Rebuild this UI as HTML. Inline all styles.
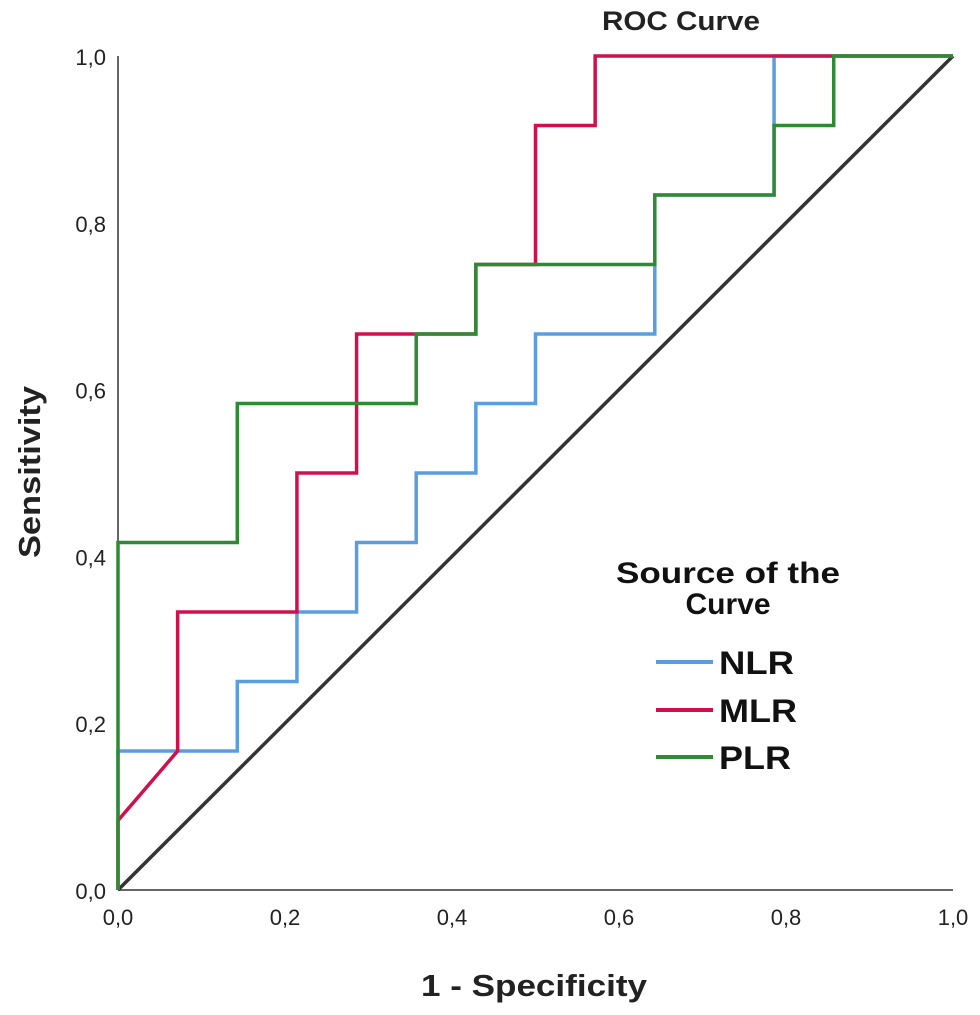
<!DOCTYPE html>
<html><head><meta charset="utf-8"><style>
body{margin:0;background:#fff;}
svg text{font-family:"Liberation Sans",Arial,sans-serif;}
</style></head><body>
<svg id="chart" width="980" height="1010" xmlns="http://www.w3.org/2000/svg">
<text x="681" y="30" font-size="27" font-weight="bold" text-anchor="middle" textLength="158" lengthAdjust="spacingAndGlyphs" fill="#222">ROC Curve</text>
<text transform="translate(40,472) rotate(-90)" font-size="31" font-weight="bold" text-anchor="middle" textLength="172" lengthAdjust="spacingAndGlyphs" fill="#222">Sensitivity</text>
<text x="534" y="996" font-size="31" font-weight="bold" text-anchor="middle" textLength="226" lengthAdjust="spacingAndGlyphs" fill="#222">1 - Specificity</text>
<g id="ticks"></g>
<line x1="118" y1="56" x2="118" y2="890" stroke="#666" stroke-width="2"/>
<line x1="118" y1="890" x2="953" y2="890" stroke="#666" stroke-width="2"/>
<g id="series"></g>
<g>
<text x="728" y="583" font-size="30" font-weight="bold" text-anchor="middle" textLength="224" lengthAdjust="spacingAndGlyphs" fill="#111">Source of the</text>
<text x="728" y="614" font-size="30" font-weight="bold" text-anchor="middle" fill="#111">Curve</text>
<line x1="656" y1="662" x2="713" y2="662" stroke="#5a9ee0" stroke-width="4"/>
<text x="719" y="674" font-size="32" font-weight="bold" textLength="75" lengthAdjust="spacingAndGlyphs" fill="#111">NLR</text>
<line x1="656" y1="710" x2="713" y2="710" stroke="#d0104c" stroke-width="4"/>
<text x="719" y="722" font-size="32" font-weight="bold" textLength="78" lengthAdjust="spacingAndGlyphs" fill="#111">MLR</text>
<line x1="656" y1="757" x2="713" y2="757" stroke="#2e8b34" stroke-width="4"/>
<text x="719" y="769" font-size="32" font-weight="bold" textLength="72" lengthAdjust="spacingAndGlyphs" fill="#111">PLR</text>
</g>
</svg>
<script>
const tickValues=[0,0.2,0.4,0.6,0.8,1.0];
const tickLabels=["0,0","0,2","0,4","0,6","0,8","1,0"];
const nlrX=[0,0,2/14,2/14,3/14,3/14,4/14,4/14,5/14,5/14,6/14,6/14,7/14,7/14,9/14,9/14,11/14,11/14,1];
const nlrY=[0,1/6,1/6,3/12,3/12,4/12,4/12,5/12,5/12,6/12,6/12,7/12,7/12,8/12,8/12,10/12,10/12,1,1];
const mlrX=[0,0,1/14,1/14,3/14,3/14,4/14,4/14,6/14,6/14,7/14,7/14,8/14,8/14,1];
const mlrY=[0,1/12,2/12,4/12,4/12,6/12,6/12,8/12,8/12,9/12,9/12,11/12,11/12,1,1];
const plrX=[0,0,2/14,2/14,5/14,5/14,6/14,6/14,9/14,9/14,11/14,11/14,12/14,12/14,1];
const plrY=[0,5/12,5/12,7/12,7/12,8/12,8/12,9/12,9/12,10/12,10/12,11/12,11/12,1,1];
const refX=[0,1], refY=[0,1];
const xs=v=>118+v*835, ys=v=>890-v*834;
const NS="http://www.w3.org/2000/svg";
const tg=document.getElementById('ticks');
tickValues.forEach((v,i)=>{
 let t=document.createElementNS(NS,'text');
 t.setAttribute('x',106);t.setAttribute('y',ys(v)+9);t.setAttribute('font-size','22');t.setAttribute('text-anchor','end');t.setAttribute('fill','#222');
 
 
 t.textContent=tickLabels[i];tg.appendChild(t);
 let u=document.createElementNS(NS,'text');
 u.setAttribute('x',xs(v));u.setAttribute('y',925);u.setAttribute('font-size','22');u.setAttribute('text-anchor','middle');u.setAttribute('fill','#222');
 
 
 u.textContent=tickLabels[i];tg.appendChild(u);
});
const sg=document.getElementById('series');
function draw(X,Y,color,name){
 let p=document.createElementNS(NS,'polyline');
 p.setAttribute('points',X.map((x,i)=>xs(x)+','+ys(Y[i])).join(' '));
 p.setAttribute('fill','none');p.setAttribute('stroke',color);p.setAttribute('stroke-width','3.5');
 
 
 sg.appendChild(p);
}
draw(refX,refY,'#333','reference-line');
draw(nlrX,nlrY,'#5a9ee0','nlr-curve');
draw(mlrX,mlrY,'#d0104c','mlr-curve');
draw(plrX,plrY,'#2e8b34','plr-curve');
</script>
</body></html>
